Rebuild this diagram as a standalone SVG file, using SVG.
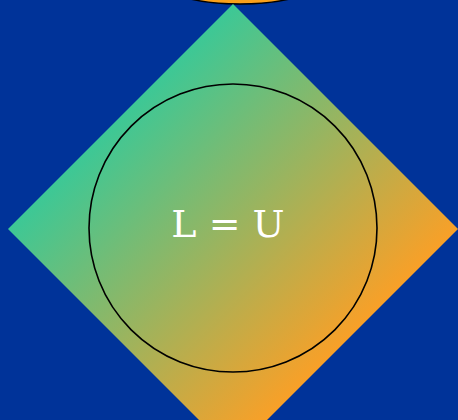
<svg xmlns="http://www.w3.org/2000/svg" width="458" height="420" viewBox="0 0 458 420">
  <defs>
    <linearGradient id="g" gradientUnits="userSpaceOnUse" x1="120" y1="116" x2="345" y2="341">
      <stop offset="0" stop-color="#3cc896"/>
      <stop offset="1" stop-color="#f8a028"/>
    </linearGradient>
    <style>
      .lbl { font-family: "DejaVu Serif", "Liberation Serif", serif; font-size: 38px; fill: #ffffff; }
    </style>
  </defs>
  <rect width="458" height="420" fill="#003399"/>
  <g id="top-node">
    <ellipse cx="240" cy="-20" rx="81" ry="24" fill="#f9a01b" stroke="#000000" stroke-width="1.5"/>
  </g>
  <g id="decision">
    <polygon points="233,4 458,229 233,454 8,229" fill="url(#g)"/>
    <circle cx="233" cy="228" r="144" fill="none" stroke="#000000" stroke-width="1.6"/>
    <text class="lbl" x="228" y="237" text-anchor="middle">L = U</text>
  </g>
  <g id="connectors"/>
</svg>
